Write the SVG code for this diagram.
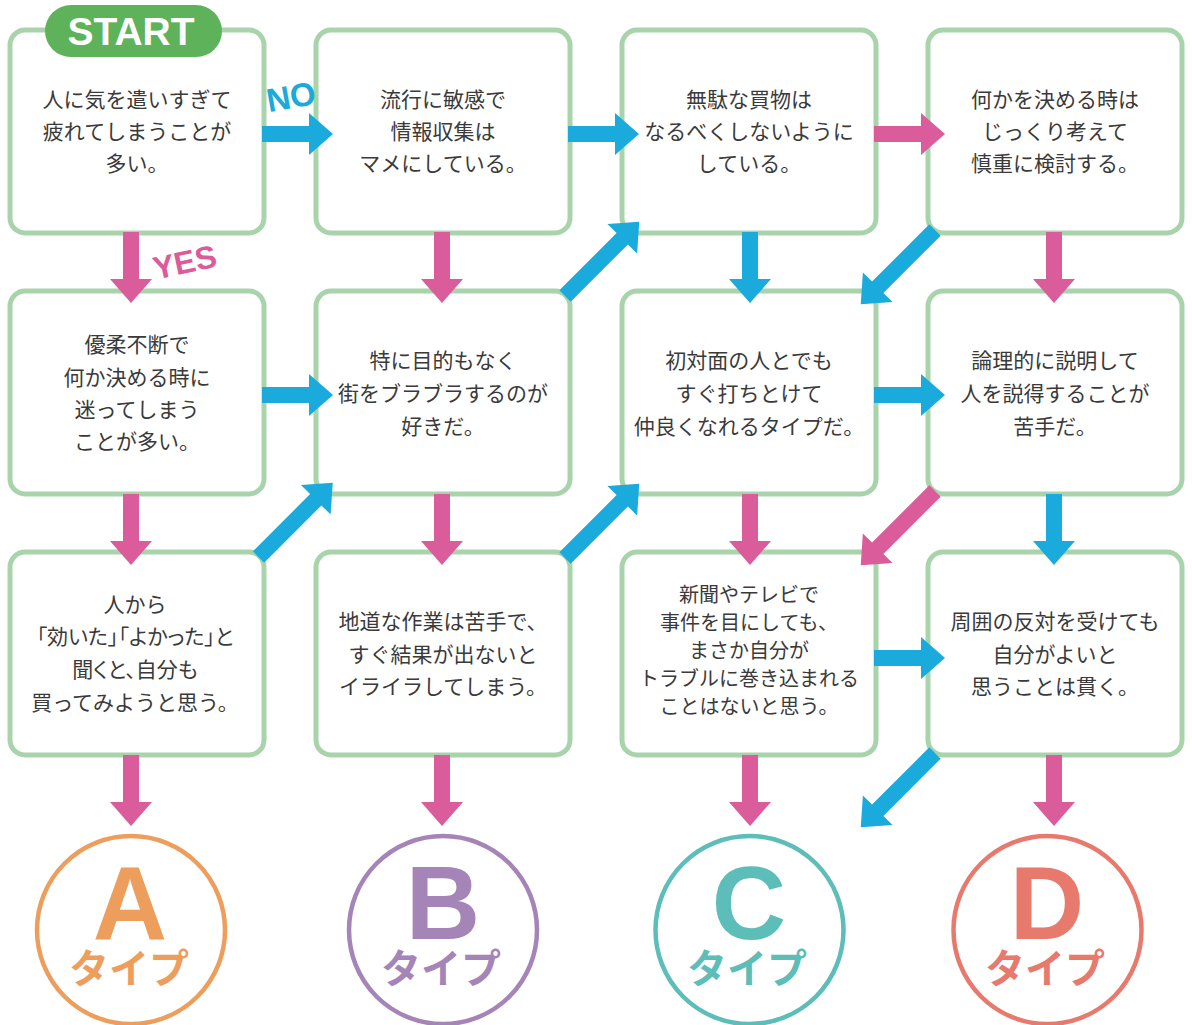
<svg xmlns="http://www.w3.org/2000/svg" xmlns:xlink="http://www.w3.org/1999/xlink" width="1192" height="1025" viewBox="0 0 1192 1025">
<style>
.box{fill:#fff;stroke:#A9D4AB;stroke-width:5}
.t{font-family:"Noto Sans CJK JP","Noto Sans",sans-serif;font-size:21px;fill:#3a3a3a;text-anchor:middle}
.pk{fill:#DA5C9A}
.bl{fill:#1AAADB}
.big{font-family:"Liberation Sans",Arial,sans-serif;font-weight:bold;font-size:103px;text-anchor:middle}
.ty{font-family:"Noto Sans CJK JP",sans-serif;font-weight:bold;font-size:40px;text-anchor:middle}
.lbl{font-family:"Liberation Sans",Arial,sans-serif;font-weight:bold;text-anchor:middle}
.pa{font-feature-settings:"palt"}
</style>
<defs>
<path id="aH" d="M0,-8 H47 V-21 L71,0 L47,21 V8 H0 Z"/>
<path id="aD" d="M0,-8 H81 V-21 L105,0 L81,21 V8 H0 Z"/>
</defs>
<rect width="1192" height="1025" fill="#fff"/>

<g id="q1"><rect class="box" x="10" y="30" width="254" height="203" rx="15"/>
<text class="t" x="137"><tspan x="137" y="107">人に気を遣いすぎて</tspan><tspan x="137" y="139">疲れてしまうことが</tspan><tspan x="137" y="171">多い。</tspan></text></g>
<g id="start"><rect x="45" y="5" width="177" height="52" rx="26" fill="#5DB25A"/>
<text class="lbl" x="131" y="45" font-size="39" fill="#fff">START</text></g>

<g id="q2"><rect class="box" x="316" y="30" width="254" height="203" rx="15"/>
<text class="t"><tspan x="443" y="107">流行に敏感で</tspan><tspan x="443" y="139">情報収集は</tspan><tspan x="443" y="171">マメにしている。</tspan></text></g>

<g id="q3"><rect class="box" x="622" y="30" width="254" height="203" rx="15"/>
<text class="t"><tspan x="749" y="107">無駄な買物は</tspan><tspan x="749" y="139">なるべくしないように</tspan><tspan x="749" y="171">している。</tspan></text></g>

<g id="q4"><rect class="box" x="928" y="30" width="254" height="203" rx="15"/>
<text class="t"><tspan x="1055" y="107">何かを決める時は</tspan><tspan x="1055" y="139">じっくり考えて</tspan><tspan x="1055" y="171">慎重に検討する。</tspan></text></g>

<g id="q5"><rect class="box" x="10" y="291" width="254" height="203" rx="15"/>
<text class="t"><tspan x="137" y="352">優柔不断で</tspan><tspan x="137" y="385">何か決める時に</tspan><tspan x="137" y="417">迷ってしまう</tspan><tspan x="137" y="449">ことが多い。</tspan></text></g>

<g id="q6"><rect class="box" x="316" y="291" width="254" height="203" rx="15"/>
<text class="t"><tspan x="443" y="368">特に目的もなく</tspan><tspan x="443" y="401">街をブラブラするのが</tspan><tspan x="443" y="434">好きだ。</tspan></text></g>

<g id="q7"><rect class="box" x="622" y="291" width="254" height="203" rx="15"/>
<text class="t"><tspan x="749" y="368">初対面の人とでも</tspan><tspan x="749" y="401">すぐ打ちとけて</tspan><tspan x="749" y="434">仲良くなれるタイプだ。</tspan></text></g>

<g id="q8"><rect class="box" x="928" y="291" width="254" height="203" rx="15"/>
<text class="t"><tspan x="1055" y="368">論理的に説明して</tspan><tspan x="1055" y="401">人を説得することが</tspan><tspan x="1055" y="434">苦手だ。</tspan></text></g>

<g id="q9"><rect class="box" x="10" y="552" width="254" height="203" rx="15"/>
<text class="t"><tspan x="135" y="612">人から</tspan><tspan class="pa" x="135" y="644">「効いた」「よかった」と</tspan><tspan class="pa" x="135" y="677">聞くと、自分も</tspan><tspan x="135" y="710">買ってみようと思う。</tspan></text></g>

<g id="q10"><rect class="box" x="316" y="552" width="254" height="203" rx="15"/>
<text class="t"><tspan x="443" y="629">地道な作業は苦手で、</tspan><tspan x="443" y="662">すぐ結果が出ないと</tspan><tspan x="443" y="694">イライラしてしまう。</tspan></text></g>

<g id="q11"><rect class="box" x="622" y="552" width="254" height="203" rx="15"/>
<text class="t" style="font-size:20px"><tspan x="749" y="602">新聞やテレビで</tspan><tspan x="749" y="630">事件を目にしても、</tspan><tspan x="749" y="658">まさか自分が</tspan><tspan x="749" y="686">トラブルに巻き込まれる</tspan><tspan x="749" y="714">ことはないと思う。</tspan></text></g>

<g id="q12"><rect class="box" x="928" y="552" width="254" height="203" rx="15"/>
<text class="t"><tspan x="1055" y="629">周囲の反対を受けても</tspan><tspan x="1055" y="662">自分がよいと</tspan><tspan x="1055" y="694">思うことは貫く。</tspan></text></g>

<g id="rA"><circle cx="131" cy="930" r="94" fill="none" stroke="#EE9E5C" stroke-width="4.5"/>
<text class="big" x="130" y="939" fill="#EE9E5C">A</text><text class="ty" x="129" y="983" fill="#EE9E5C">タイプ</text></g>
<g id="rB"><circle cx="443" cy="930" r="94" fill="none" stroke="#A584B7" stroke-width="4.5"/>
<text class="big" x="443" y="939" fill="#A584B7">B</text><text class="ty" x="441" y="983" fill="#A584B7">タイプ</text></g>
<g id="rC"><circle cx="749.5" cy="930" r="94" fill="none" stroke="#5CBDB9" stroke-width="4.5"/>
<text class="big" x="749" y="939" fill="#5CBDB9">C</text><text class="ty" x="747" y="983" fill="#5CBDB9">タイプ</text></g>
<g id="rD"><circle cx="1047.5" cy="930" r="94" fill="none" stroke="#E8796D" stroke-width="4.5"/>
<text class="big" x="1047" y="939" fill="#E8796D">D</text><text class="ty" x="1045" y="983" fill="#E8796D">タイプ</text></g>

<g id="connectors">
<use href="#aH" class="bl" transform="translate(262,134)"/>
<use href="#aH" class="bl" transform="translate(568,134)"/>
<use href="#aH" class="pk" transform="translate(874,134)"/>
<use href="#aH" class="bl" transform="translate(262,395)"/>
<use href="#aH" class="bl" transform="translate(874,395)"/>
<use href="#aH" class="bl" transform="translate(874,658)"/>

<use href="#aH" class="pk" transform="translate(131,232) rotate(90)"/>
<use href="#aH" class="pk" transform="translate(442,232) rotate(90)"/>
<use href="#aH" class="bl" transform="translate(750,232) rotate(90)"/>
<use href="#aH" class="pk" transform="translate(1054,232) rotate(90)"/>
<use href="#aH" class="pk" transform="translate(131,494) rotate(90)"/>
<use href="#aH" class="pk" transform="translate(442,494) rotate(90)"/>
<use href="#aH" class="pk" transform="translate(750,494) rotate(90)"/>
<use href="#aH" class="bl" transform="translate(1054,494) rotate(90)"/>
<use href="#aH" class="pk" transform="translate(131,755) rotate(90)"/>
<use href="#aH" class="pk" transform="translate(442,755) rotate(90)"/>
<use href="#aH" class="pk" transform="translate(750,755) rotate(90)"/>
<use href="#aH" class="pk" transform="translate(1054,755) rotate(90)"/>

<use href="#aD" class="bl" transform="translate(565,296) rotate(-45)"/>
<use href="#aD" class="bl" transform="translate(935,230) rotate(135)"/>
<use href="#aD" class="bl" transform="translate(258.5,557) rotate(-45)"/>
<use href="#aD" class="bl" transform="translate(565,558) rotate(-45)"/>
<use href="#aD" class="pk" transform="translate(935,491) rotate(135)"/>
<use href="#aD" class="bl" transform="translate(935,753) rotate(135)"/>

<text class="lbl bl" font-size="33" transform="translate(293,108) rotate(-10)">NO</text>
<text class="lbl pk" font-size="32" transform="translate(187,273) rotate(-12)">YES</text>
</g>
</svg>
